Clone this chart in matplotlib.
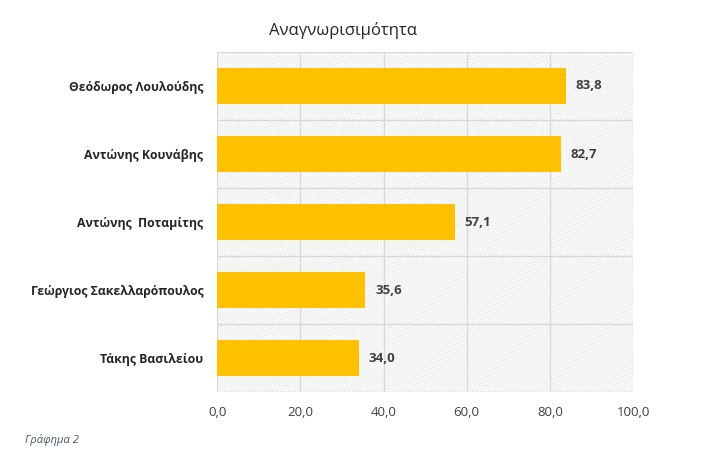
import matplotlib.pyplot as plt
from matplotlib.patches import Rectangle

plt.rcParams['font.family'] = ['Open Sans', 'DejaVu Sans']
plt.rcParams['hatch.linewidth'] = 0.5

# Данные
names = ['Θεόδωρος Λουλούδης', 'Αντώνης Κουνάβης', 'Αντώνης  Ποταμίτης',
         'Γεώργιος Σακελλαρόπουλος', 'Τάκης Βασιλείου']
values = [83.8, 82.7, 57.1, 35.6, 34.0]
xticks = [0, 20, 40, 60, 80, 100]

fig = plt.figure(figsize=(7.05, 4.72), dpi=100)
ax = fig.add_axes([0.308, 0.169, 0.59, 0.721])

n = len(names)
pos = list(range(n))[::-1]

# фон с мелкой штриховкой
ax.add_patch(Rectangle((0, 0), 1, 1, transform=ax.transAxes, facecolor='white',
                       edgecolor='#E6E6E6', linewidth=0, hatch='/' * 12, zorder=0))

ax.barh(pos, values, height=0.53, color='#FFC000', zorder=3)

for p, v in zip(pos, values):
    ax.annotate(f'{v:.1f}'.replace('.', ','), (v, p), xytext=(7, 0),
                textcoords='offset points', va='center', ha='left',
                fontsize=9.5, fontweight='bold', color='#404040')

ax.set_xlim(0, 100)
ax.set_ylim(-0.5, n - 0.5)
ax.set_xticks(xticks)
ax.set_xticklabels([f'{t:.1f}'.replace('.', ',') for t in xticks],
                   fontsize=9.5, color='#404040')
ax.set_yticks(pos)
ax.set_yticklabels(names, fontsize=8.8, fontweight='bold', color='#262626')
ax.tick_params(length=0, pad=10)

for yb in [i - 0.5 for i in range(n + 1)]:
    ax.axhline(yb, color='#D9D9D9', lw=1, zorder=1)
for xt in xticks:
    ax.axvline(xt, color='#D9D9D9', lw=1, zorder=1)
for s in ax.spines.values():
    s.set_visible(False)

fig.text(0.487, 0.935, 'Αναγνωρισιμότητα', ha='center', va='center',
         fontsize=12, color='#262626')
fig.text(0.035, 0.068, 'Γράφημα 2', ha='left', va='center', fontsize=8,
         style='italic', color='#44546A')

fig.savefig('out.png', dpi=100)
